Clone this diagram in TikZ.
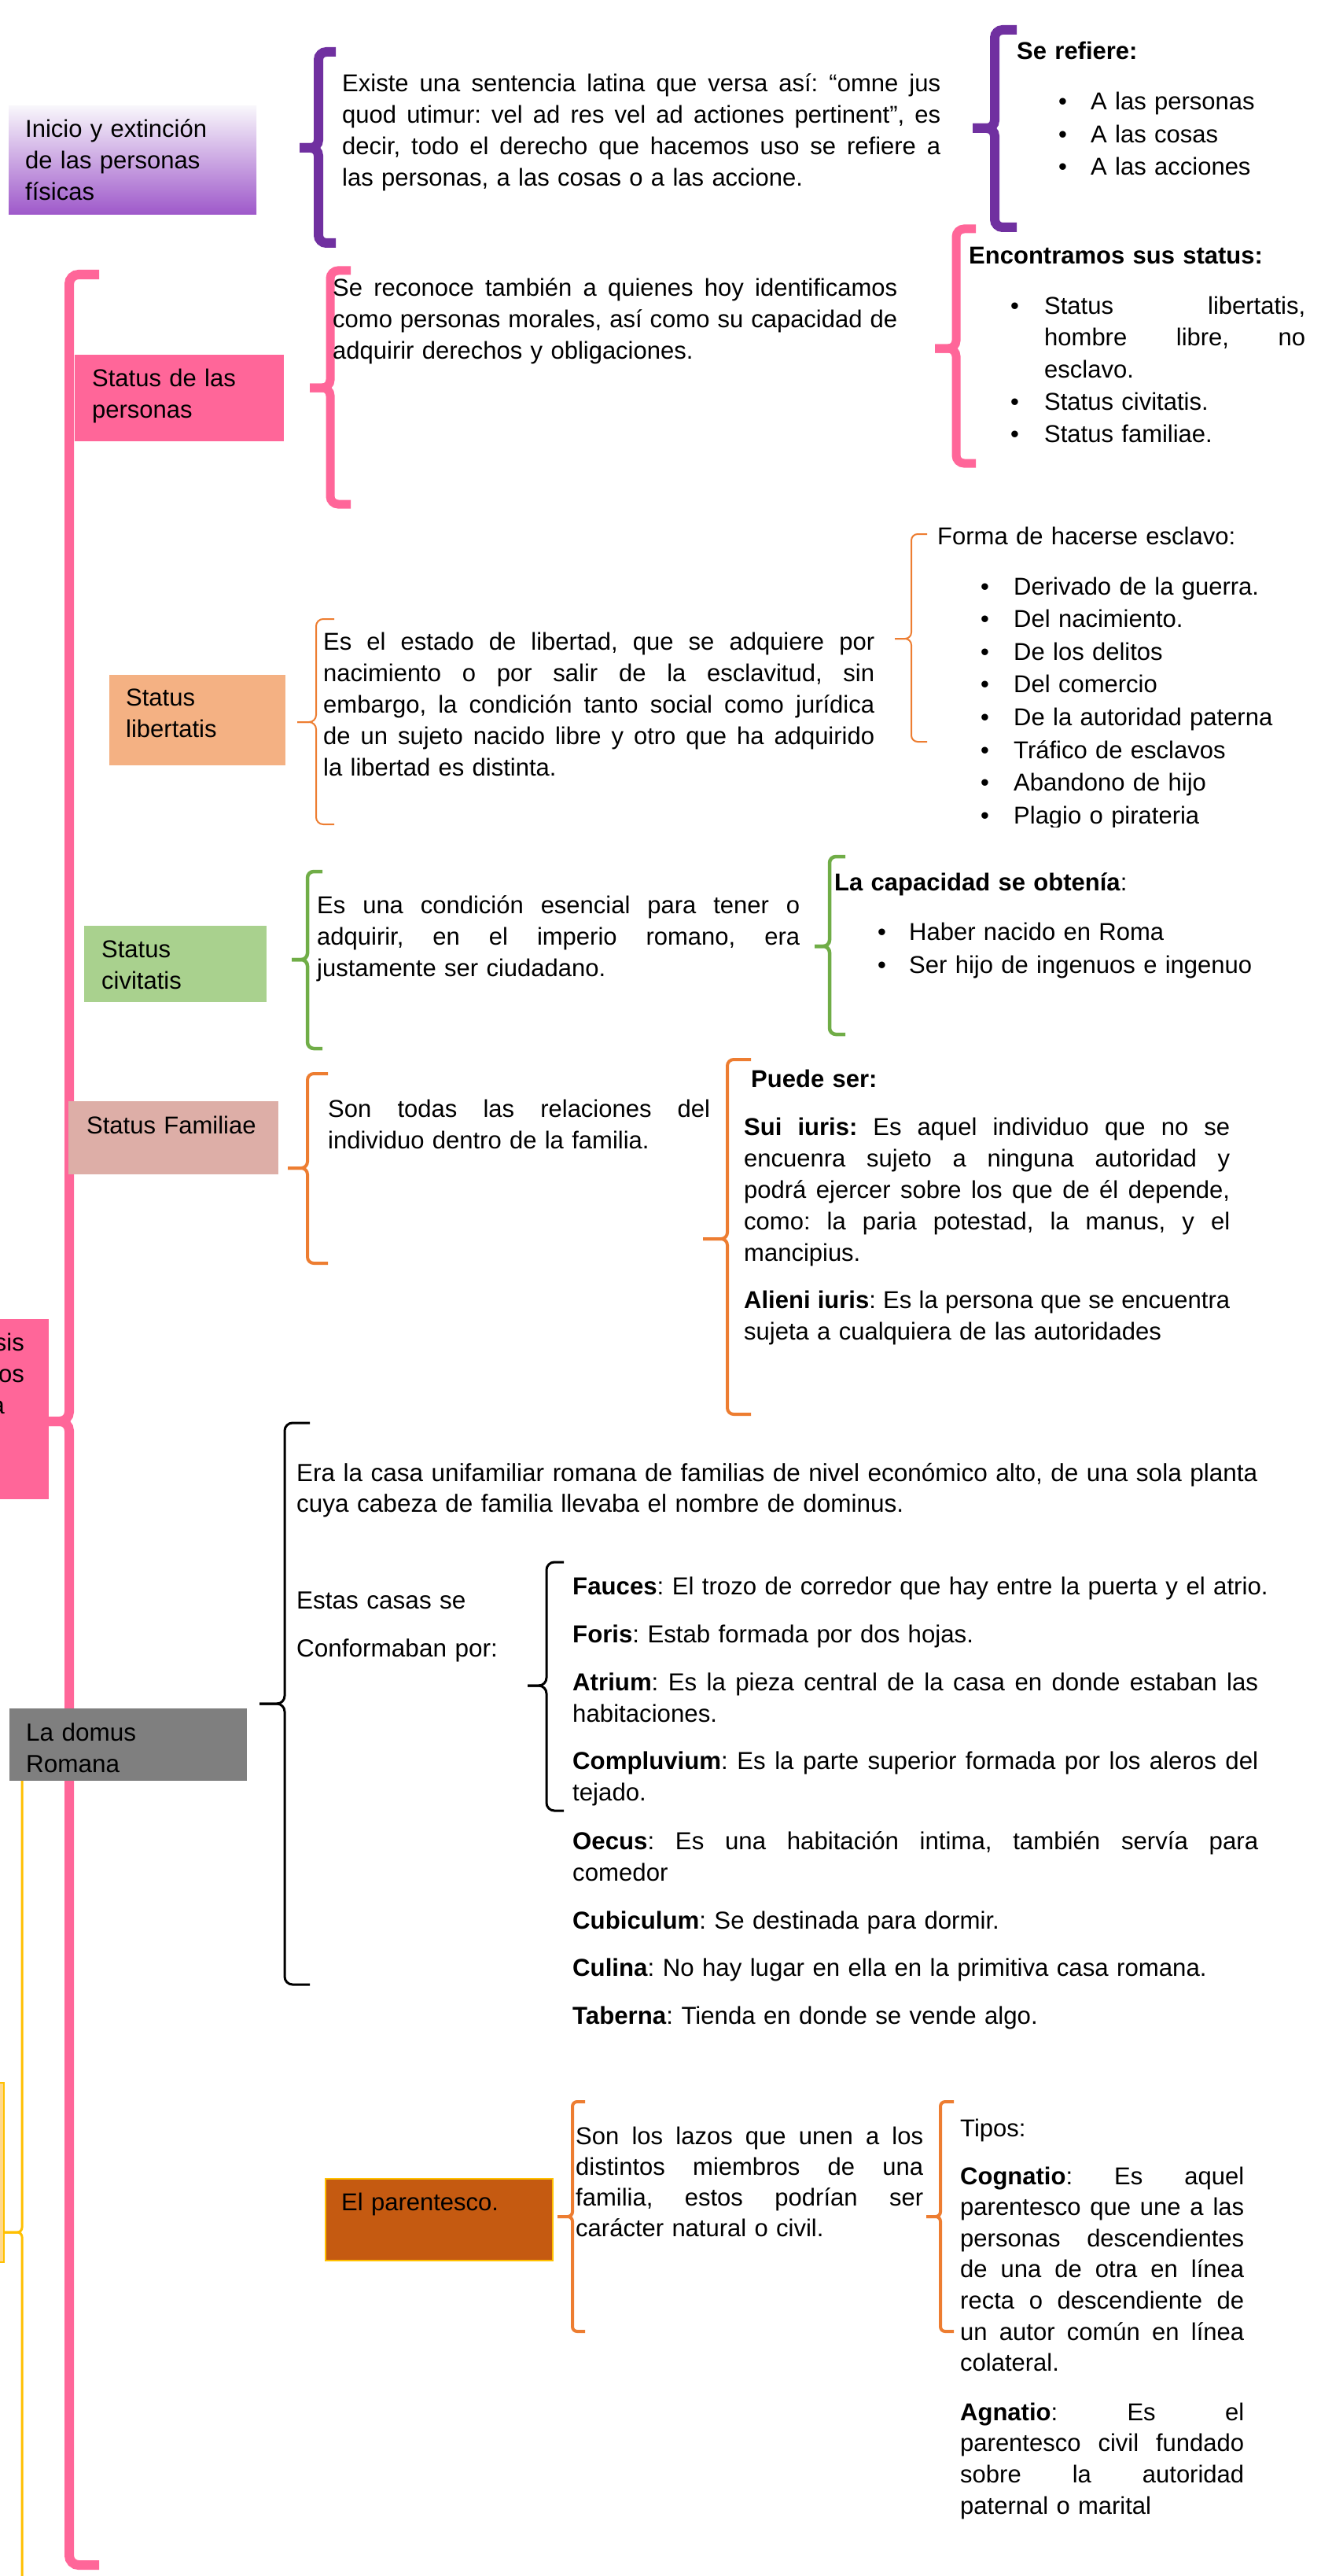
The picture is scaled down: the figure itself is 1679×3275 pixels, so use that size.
\documentclass[tikz,border=0pt]{standalone}
\usepackage{fontspec}
\setmainfont{Liberation Sans}
\definecolor{cpurple}{HTML}{7030A0}
\definecolor{cpink}{HTML}{FF6699}
\definecolor{corange}{HTML}{ED7D31}
\definecolor{cgreen}{HTML}{70AD47}
\definecolor{cyellow}{HTML}{FFC000}
\definecolor{fyellow}{HTML}{FFD98C}
\definecolor{fpeach}{HTML}{F4B183}
\definecolor{fgreen}{HTML}{A9D18E}
\definecolor{frose}{HTML}{DDAEA7}
\definecolor{fgray}{HTML}{7F7F7F}
\definecolor{fbrown}{HTML}{C55A11}
\definecolor{gtop}{HTML}{F8F6FB}
\definecolor{gbot}{HTML}{9E58CA}
\newcommand{\fs}[1]{\fontsize{31}{#1}\selectfont\frenchspacing}
\newcommand{\fd}[1]{\fontsize{31.5}{#1}\selectfont\frenchspacing}
\newcommand{\fe}[1]{\fontsize{31.2}{#1}\selectfont\frenchspacing}
\newcommand{\jbox}[2]{{\spaceskip=0.278em plus 1fil\relax\xspaceskip=\spaceskip\makebox[#1][s]{#2}}}
\newcommand{\jl}[1]{\jbox{\linewidth}{#1}}
\newcommand{\bul}[1]{\makebox[#1][l]{\textbullet}}
\newcommand{\brk}[8]{%
  \draw[#1,rounded corners=#8] (#7,#3) -- (#2,#3) -- (#2,#6) -- (#5,#6);
  \draw[#1,rounded corners=#8] (#5,#6) -- (#2,#6) -- (#2,#4) -- (#7,#4);}
\tikzset{
  boxn/.style={inner sep=0pt, outer sep=0pt, anchor=north west},
  tb/.style={inner sep=0pt, anchor=base west, text width=#1, font=\fs{40}},
  db/.style={inner sep=0pt, anchor=base west, text width=#1, font=\fd{40}},
}
\begin{document}
\begin{tikzpicture}[x=1pt,y=-1pt]
\useasboundingbox (0,0) rectangle (1679,3275);
\clip (0,0) rectangle (1679,3275);
\fill[white] (0,0) rectangle (1679,3275);

% ---------- brackets ----------
\brk{cyellow,line width=3pt}{28}{2200}{3320}{6}{2838}{50}{6}
\brk{cpink,line width=12pt}{88}{349}{3261}{62}{1807}{126}{12}
\brk{cpurple,line width=12pt}{405}{66}{309}{381}{188}{427}{10}
\brk{cpurple,line width=12pt}{1265}{38}{289}{1237}{163}{1293}{10}
\brk{cpink,line width=11pt}{420}{344}{641}{394}{493}{446}{10}
\brk{cpink,line width=11pt}{1216}{291}{589}{1189}{443}{1241}{10}
\brk{corange,line width=2pt}{402}{787}{1048}{378}{918}{425}{9}
\brk{corange,line width=2pt}{1159}{679}{943}{1138}{812}{1179}{8}
\brk{cgreen,line width=4.5pt}{391}{1108}{1333}{371}{1220}{410}{8}
\brk{cgreen,line width=4.5pt}{1055}{1089}{1315}{1036}{1203}{1075}{8}
\brk{corange,line width=4pt}{391}{1365}{1606}{366}{1485}{417}{8}
\brk{corange,line width=4pt}{925}{1347}{1798}{894}{1575}{955}{8}
\brk{black,line width=3pt}{362}{1809}{2523}{330}{2166}{394}{10}
\brk{black,line width=3pt}{695}{1986}{2302}{671}{2143}{717}{10}
\brk{corange,line width=4pt}{728}{2672}{2964}{709}{2818}{744}{6}
\brk{corange,line width=4pt}{1196}{2672}{2964}{1178}{2818}{1213}{6}

% ---------- boxes ----------
\node[boxn, top color=gtop, bottom color=gbot, minimum width=315pt, minimum height=138pt] (inicio) at (11,135) {};
\node[boxn, fill=cpink, minimum width=266pt, minimum height=110pt] (personas) at (95,451) {};
\node[boxn, fill=fpeach, minimum width=224pt, minimum height=115pt] (libertatis) at (139,858) {};
\node[boxn, fill=fgreen, minimum width=232pt, minimum height=97pt] (civitatis) at (107,1177) {};
\node[boxn, fill=frose, minimum width=267pt, minimum height=93pt] (familiae) at (87,1400) {};
\node[boxn, anchor=north east, fill=cpink, minimum width=200pt, minimum height=229pt] (raiz) at (62,1677) {};
\node[boxn, fill=fgray, minimum width=302pt, minimum height=92pt] (domus) at (12,2172) {};
\node[boxn, fill=fbrown, draw=cyellow, line width=1.5pt, minimum width=289pt, minimum height=104pt] (parentesco) at (414,2770) {};
\node[boxn, anchor=north east, fill=fyellow, draw=cyellow, line width=2pt, minimum width=200pt, minimum height=228pt] (amarillo) at (5,2648) {};

% ---------- box labels ----------
\node[tb=300pt] (linicio) at (32,175) {Inicio y extinción\\de las personas\\físicas};
\node[tb=240pt] (lpersonas) at (117,491) {Status de las\\personas};
\node[tb=200pt] (llibertatis) at (160,897) {Status\\libertatis};
\node[tb=200pt] (lcivitatis) at (129,1217) {Status\\civitatis};
\node[tb=260pt] (lfamiliae) at (110,1441) {Status Familiae};
\node[inner sep=0pt, anchor=base east, font=\fs{40}] (lraiz1) at (31,1717) {sis};
\node[inner sep=0pt, anchor=base east, font=\fs{40}] (lraiz2) at (31,1757) {os};
\node[inner sep=0pt, anchor=base east, font=\fs{40}] (lraiz3) at (6,1797) {a};
\node[db=280pt] (ldomus) at (33,2213) {La domus\\Romana};
\node[tb=260pt] (lparentesco) at (434,2810) {El parentesco.};

% ---------- top purple section ----------
\node[tb=761pt] (t1) at (435,117) {\jl{Existe una sentencia latina que versa así: “omne jus}\\\jl{quod utimur: vel ad res vel ad actiones pertinent”, es}\\\jl{decir, todo el derecho que hacemos uso se refiere a}\\\mbox{las personas, a las cosas o a las accione.}};
\node[tb=300pt] (refiere) at (1293,76) {\textbf{Se refiere:}};
\node[tb=320pt, font=\fs{41.5}] (lrefiere) at (1346,140) {\bul{41pt}A las personas\\\bul{41pt}A las cosas\\\bul{41pt}A las acciones};

% ---------- status de las personas ----------
\node[tb=718pt] (t2) at (423,376) {\jl{Se reconoce también a quienes hoy identificamos}\\\jl{como personas morales, así como su capacidad de}\\\mbox{adquirir derechos y obligaciones.}};
\node[tb=420pt] (encontramos) at (1232,335) {\textbf{Encontramos sus status:}};
\node[tb=380pt, font=\fs{40.8}] (lstatus) at (1285,399) {\bul{43pt}\jbox{332pt}{Status libertatis,}\\\hspace*{43pt}\jbox{332pt}{hombre libre, no}\\\hspace*{43pt}esclavo.\\\bul{43pt}Status civitatis.\\\bul{43pt}Status familiae.};

% ---------- status libertatis ----------
\node[tb=701pt] (t3) at (411,826) {\jl{Es el estado de libertad, que se adquiere por}\\\jl{nacimiento o por salir de la esclavitud, sin}\\\jl{embargo, la condición tanto social como jurídica}\\\jl{de un sujeto nacido libre y otro que ha adquirido}\\\mbox{la libertad es distinta.}};
\node[tb=420pt] (forma) at (1192,692) {Forma de hacerse esclavo:};
\begin{scope}
\clip (1150,700) rectangle (1679,1051);
\node[tb=420pt, font=\fs{41.6}] (lforma) at (1247,756) {\bul{42pt}Derivado de la guerra.\\\bul{42pt}Del nacimiento.\\\bul{42pt}De los delitos\\\bul{42pt}Del comercio\\\bul{42pt}\mbox{De la autoridad paterna}\\\bul{42pt}Tráfico de esclavos\\\bul{42pt}Abandono de hijo\\\bul{42pt}Plagio o pirateria};
\end{scope}

% ---------- status civitatis ----------
\node[tb=614pt] (t4) at (403,1161) {\jl{Es una condición esencial para tener o}\\\jl{adquirir, en el imperio romano, era}\\\mbox{justamente ser ciudadano.}};
\node[tb=500pt] (capacidad) at (1061,1132) {\textbf{La capacidad se obtenía}:};
\node[tb=520pt, font=\fs{42}] (lcapacidad) at (1116,1195) {\bul{40pt}Haber nacido en Roma\\\bul{40pt}\mbox{Ser hijo de ingenuos e ingenuo}};

% ---------- status familiae ----------
\node[tb=486pt] (t5) at (417,1420) {\jl{Son todas las relaciones del}\\\mbox{individuo dentro de la familia.}};
\node[tb=300pt] (puede) at (955,1382) {\textbf{Puede ser:}};
\node[tb=618pt] (sui) at (946,1443) {\jl{\textbf{Sui iuris:} Es aquel individuo que no se}\\\jl{encuenra sujeto a ninguna autoridad y}\\\jl{podrá ejercer sobre los que de él depende,}\\\jl{como: la paria potestad, la manus, y el}\\mancipius.};
\node[tb=618pt] (alieni) at (946,1663) {\jl{\textbf{Alieni iuris}: Es la persona que se encuentra}\\\mbox{sujeta a cualquiera de las autoridades}};

% ---------- domus ----------
\node[db=1280pt, font=\fd{39}] (tdomus) at (377,1883) {\mbox{Era la casa unifamiliar romana de familias de nivel económico alto, de una sola planta}\\\mbox{cuya cabeza de familia llevaba el nombre de dominus.}};
\node[db=400pt, font=\fd{61}] (conforman) at (377,2045) {Estas casas se\\Conformaban por:};
\node[db=872pt, font=\fe{40}] (partes) at (728,2027) {\mbox{\textbf{Fauces}: El trozo de corredor que hay entre la puerta y el atrio.}\\[21pt]\mbox{\textbf{Foris}: Estab formada por dos hojas.}\\[21pt]\jl{\textbf{Atrium}: Es la pieza central de la casa en donde estaban las}\\habitaciones.\\[20pt]\jl{\textbf{Compluvium}: Es la parte superior formada por los aleros del}\\tejado.\\[22pt]\jl{\textbf{Oecus}: Es una habitación intima, también servía para}\\comedor\\[21pt]\mbox{\textbf{Cubiculum}: Se destinada para dormir.}\\[20pt]\mbox{\textbf{Culina}: No hay lugar en ella en la primitiva casa romana.}\\[21pt]\mbox{\textbf{Taberna}: Tienda en donde se vende algo.}};

% ---------- parentesco ----------
\node[tb=442pt, font=\fs{39.3}] (t6) at (732,2726) {\jl{Son los lazos que unen a los}\\\jl{distintos miembros de una}\\\jl{familia, estos podrían ser}\\\mbox{carácter natural o civil.}};
\node[tb=300pt] (tipos) at (1221,2716) {Tipos:};
\node[tb=361pt, font=\fs{39.6}] (cognatio) at (1221,2777) {\jl{\textbf{Cognatio}: Es aquel}\\\jl{parentesco que une a las}\\\jl{personas descendientes}\\\jl{de una de otra en línea}\\\jl{recta o descendiente de}\\\jl{un autor común en línea}\\colateral.};
\node[tb=361pt, font=\fs{39.7}] (agnatio) at (1221,3077) {\jl{\textbf{Agnatio}: Es el}\\\jl{parentesco civil fundado}\\\jl{sobre la autoridad}\\\mbox{paternal o marital}};
\end{tikzpicture}
\end{document}
